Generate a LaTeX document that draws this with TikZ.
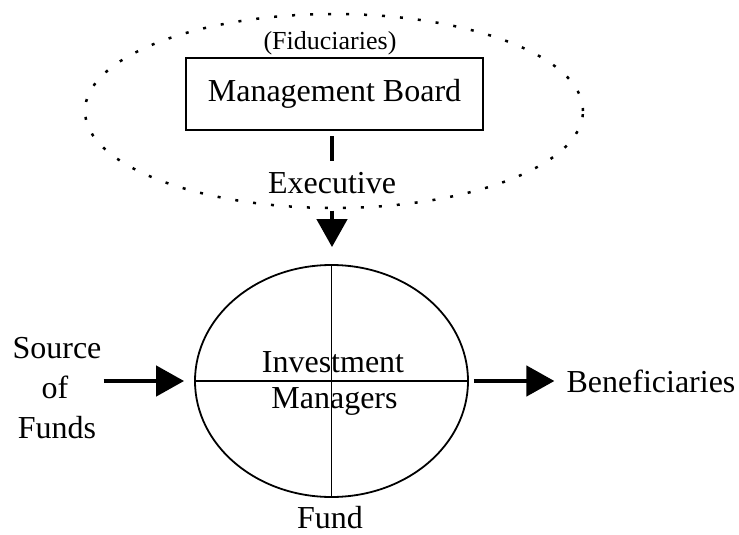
\documentclass[tikz,border=0pt]{standalone}
\usepackage{fontspec}
\setmainfont{Liberation Serif}
\usetikzlibrary{shapes.geometric,arrows.meta}
\tikzset{
  big/.style={font=\fontsize{32}{36}\selectfont, inner sep=0pt},
  small/.style={font=\fontsize{26}{30}\selectfont, inner sep=0pt},
  bigarrow/.style={line width=4.5pt, -{Triangle[length=28pt,width=30pt]}},
  dotring/.style={ellipse, draw, line width=2.5pt, dash pattern=on 3pt off 15pt},
  boardbox/.style={rectangle, draw, line width=2pt},
  fundring/.style={ellipse, draw, line width=1.8pt},
  divider/.style={line width=1.8pt},
}
\begin{document}
\begin{tikzpicture}[x=1pt,y=-1pt]
\useasboundingbox (0,0) rectangle (739,535);
% outer dotted ellipse (fiduciaries)
\node[dotring, minimum width=498pt, minimum height=194pt] (fid) at (334,111) {};
\node[small, anchor=base] (fidlabel) at (330,50) {(Fiduciaries)};
\node[boardbox, minimum width=297pt, minimum height=72pt] (mb) at (334.5,94) {};
\node[big] (mbtext) at (mb.center) {Management Board};
\node[big, anchor=base] (exec) at (332,193) {Executive};
% fund
\node[fundring, minimum width=273pt, minimum height=232pt] (fund) at (331.5,381) {};
\draw[divider] (fund.west) -- (fund.east);
\draw[divider] (fund.north) -- (fund.south);
\node[big, anchor=base] (inv) at (333,372) {Investment};
\node[big, anchor=base] (man) at (334.5,408) {Managers};
\node[big, anchor=base] (fundlabel) at (330,528) {Fund};
% source
\node[big, anchor=base] (src1) at (57,358) {Source};
\node[big, anchor=base] (src) at (55,398) {of};
\node[big, anchor=base] (src3) at (57,438) {Funds};
% beneficiaries
\node[big, anchor=base] (ben) at (651,392) {Beneficiaries};
% connectors
\draw[line width=4pt, shorten <=5pt, shorten >=11pt] (exec.north |- mb.south) -- (exec.north);
\coordinate (arrtop) at ([yshift=-17pt]exec.south);
\coordinate (arrtip) at ([yshift=17pt]exec.south |- fund.north);
\draw[bigarrow] (arrtop) -- (arrtip);
\draw[bigarrow, shorten <=35pt, shorten >=10pt] (src.east |- fund.west) -- (fund.west);
\draw[bigarrow, shorten <=5pt, shorten >=12pt] (fund.east) -- (fund.east -| ben.west);
\end{tikzpicture}
\end{document}
